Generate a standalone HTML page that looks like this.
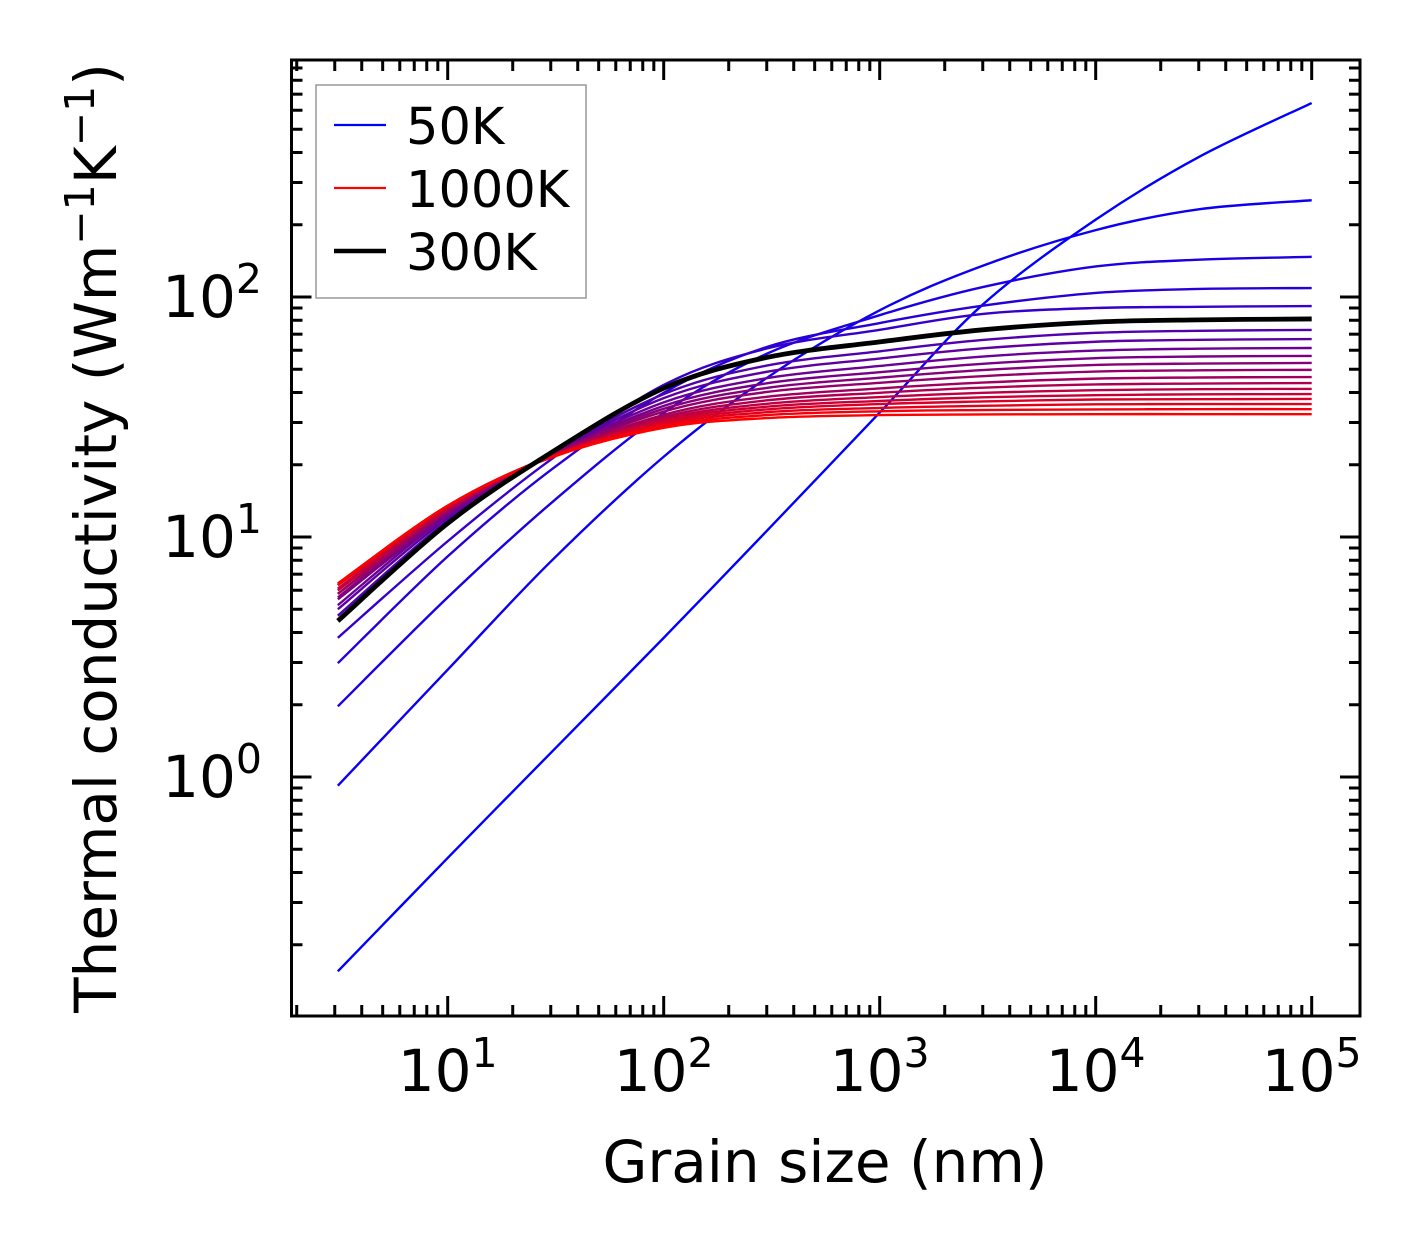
<!DOCTYPE html>
<html><head><meta charset="utf-8"><style>
html,body{margin:0;padding:0;background:#fff}
svg{display:block;font-family:"DejaVu Sans","Liberation Sans",sans-serif}
</style></head><body>
<svg id="chart" width="1421" height="1254" viewBox="0 0 1421 1254" xmlns="http://www.w3.org/2000/svg">
<rect width="1421" height="1254" fill="#fff"/>
<g id="curves"></g>
<g id="ticks"></g>
<rect x="291.5" y="60" width="1068.5" height="956" fill="none" stroke="#000" stroke-width="3"/>
<g id="ticklabels" font-size="58" fill="#000"></g>
<text x="825" y="1182" font-size="58" text-anchor="middle">Grain size (nm)</text>
<text transform="translate(116,538) rotate(-90)" font-size="58" text-anchor="middle">Thermal conductivity (Wm<tspan dy="-22" font-size="41">−1</tspan><tspan dy="22">K</tspan><tspan dy="-22" font-size="41">−1</tspan><tspan dy="22">)</tspan></text>
<g>
<rect x="316" y="85" width="270" height="213" fill="#fff" stroke="#999" stroke-width="1.5"/>
<line x1="334" y1="125" x2="386" y2="125" stroke="#0000ff" stroke-width="2.2"/>
<text x="406" y="144" font-size="51">50K</text>
<line x1="334" y1="188" x2="386" y2="188" stroke="#ff0000" stroke-width="2.2"/>
<text x="406" y="207" font-size="51">1000K</text>
<line x1="334" y1="251" x2="386" y2="251" stroke="#000" stroke-width="4.5"/>
<text x="406" y="270" font-size="51">300K</text>
</g>
</svg>
<script>
const grainSizes = [3.1, 10, 30, 100, 300, 1000, 3000, 10000, 30000, 100000];
const temperatures = [50,100,150,200,250,350,400,450,500,550,600,650,700,750,800,850,900,950,1000];
const k50 = [0.155,0.46,1.26,3.8,10.6,33,93,210,383,643];
const k100 = [0.92,2.8,7.9,21.6,46,88,135,190,232,253];
const k150 = [1.97,5.6,13.8,32.9,58,84,110,134,143,147];
const k200 = [2.98,8.3,19.0,39.9,61.9,77.9,92,104,108,109];
const k250 = [3.8,9.6,21,43,61,73,85,90,91,91.7];
const k350 = [4.7,11.7,22.2,39.4,51.8,59.4,66.2,70.9,72.3,72.9];
const k400 = [5.0,12.0,22.1,37.9,48.8,55.4,61.1,65.1,66.3,66.8];
const k450 = [5.2,12.3,22.0,36.4,45.9,51.6,56.5,59.8,60.9,61.3];
const k500 = [5.5,12.4,21.9,35.2,43.7,48.6,52.7,55.6,56.5,56.8];
const k550 = [5.6,12.7,21.9,34.2,41.8,46.1,49.6,52.1,52.8,53.1];
const k600 = [5.8,12.8,21.9,33.3,40.2,43.9,46.8,48.9,49.5,49.7];
const k650 = [5.8,12.9,21.7,32.3,38.4,41.6,44.0,45.7,46.2,46.4];
const k700 = [6.0,13.0,21.7,31.6,37.1,39.9,41.9,43.2,43.6,43.8];
const k750 = [6.0,13.1,21.6,31.0,35.9,38.3,39.9,40.9,41.3,41.4];
const k800 = [6.1,13.3,21.6,30.5,34.9,36.9,38.2,39.0,39.3,39.4];
const k850 = [6.3,13.4,21.7,30.0,34.0,35.8,36.7,37.4,37.5,37.6];
const k900 = [6.3,13.5,21.6,29.5,33.1,34.5,35.2,35.7,35.8,35.8];
const k950 = [6.4,13.5,21.5,29.0,32.2,33.4,33.8,34.0,34.1,34.1];
const k1000 = [6.4,13.5,21.4,28.5,31.3,32.2,32.4,32.5,32.5,32.5];
const k300 = [4.47,11.4,22.4,41.7,56,65,73,78.6,80.3,81];
const series = [k50,k100,k150,k200,k250,k350,k400,k450,k500,k550,k600,k650,k700,k750,k800,k850,k900,k950,k1000];
const xTickExps = [1,2,3,4,5];
const yTickExps = [0,1,2];

const NS = "http://www.w3.org/2000/svg";
const L = 291.5, R = 1360, T = 60, B = 1016;
const xDec = 216, yDec = 240;
function X(v){ return 447.7 + (Math.log10(v) - 1) * xDec; }
function Y(v){ return 777 - Math.log10(v) * yDec; }
const xMin = Math.pow(10, 1 - (447.7 - L)/xDec), xMax = Math.pow(10, 1 + (R - 447.7)/xDec);
const yMin = Math.pow(10, -(B - 777)/yDec), yMax = Math.pow(10, (777 - T)/yDec);

function smoothPath(xs, ys){
  const pts = xs.map((x,i)=>[X(x), Y(ys[i])]);
  let d = "M" + pts[0][0].toFixed(2) + "," + pts[0][1].toFixed(2);
  for (let i = 0; i < pts.length - 1; i++){
    const p0 = pts[Math.max(0,i-1)], p1 = pts[i], p2 = pts[i+1], p3 = pts[Math.min(pts.length-1,i+2)];
    const c1 = [p1[0] + (p2[0]-p0[0])/6, p1[1] + (p2[1]-p0[1])/6];
    const c2 = [p2[0] - (p3[0]-p1[0])/6, p2[1] - (p3[1]-p1[1])/6];
    d += " C" + c1[0].toFixed(2)+","+c1[1].toFixed(2)+" "+c2[0].toFixed(2)+","+c2[1].toFixed(2)+" "+p2[0].toFixed(2)+","+p2[1].toFixed(2);
  }
  return d;
}

const gc = document.getElementById("curves");
series.forEach((vals, i) => {
  const t = (temperatures[i] - 50) / 950;
  const r = Math.round(255 * t), b = Math.round(255 * (1 - t));
  const p = document.createElementNS(NS, "path");
  p.setAttribute("d", smoothPath(grainSizes, vals));
  p.setAttribute("fill", "none");
  p.setAttribute("stroke", "rgb(" + r + ",0," + b + ")");
  p.setAttribute("stroke-width", "2.4");
  
  
  gc.appendChild(p);
});
const pb = document.createElementNS(NS, "path");
pb.setAttribute("d", smoothPath(grainSizes, k300));
pb.setAttribute("fill", "none");
pb.setAttribute("stroke", "#000");
pb.setAttribute("stroke-width", "4.8");


gc.appendChild(pb);

const gt = document.getElementById("ticks");
function tick(x1,y1,x2,y2,name){
  const l = document.createElementNS(NS, "line");
  l.setAttribute("x1",x1); l.setAttribute("y1",y1); l.setAttribute("x2",x2); l.setAttribute("y2",y2);
  l.setAttribute("stroke","#000"); l.setAttribute("stroke-width","3");
  
  
  gt.appendChild(l);
}
for (let e = 0; e <= 5; e++){
  for (let m = 1; m <= 9; m++){
    const v = m * Math.pow(10, e);
    if (v < xMin || v > xMax) continue;
    const x = X(v), len = m === 1 ? 20 : 11;
    tick(x, B, x, B - len, m === 1 ? 'x-major-tick' : 'x-minor-tick');
    tick(x, T, x, T + len, m === 1 ? 'x-major-tick-top' : 'x-minor-tick-top');
  }
}
for (let e = -1; e <= 2; e++){
  for (let m = 1; m <= 9; m++){
    const v = m * Math.pow(10, e);
    if (v < yMin || v > yMax) continue;
    const y = Y(v), len = m === 1 ? 20 : 11;
    tick(L, y, L + len, y, m === 1 ? 'y-major-tick' : 'y-minor-tick');
    tick(R, y, R - len, y, m === 1 ? 'y-major-tick-right' : 'y-minor-tick-right');
  }
}

const gl = document.getElementById("ticklabels");
xTickExps.forEach(e => {
  const t = document.createElementNS(NS, "text");
  t.setAttribute("x", X(Math.pow(10,e)));
  t.setAttribute("y", 1091);
  t.setAttribute("text-anchor", "middle");
  t.innerHTML = '10<tspan dy="-24" font-size="41">' + e + '</tspan>';
  
  
  gl.appendChild(t);
});
yTickExps.forEach(e => {
  const t = document.createElementNS(NS, "text");
  t.setAttribute("x", 262);
  t.setAttribute("y", Y(Math.pow(10,e)) + 20);
  t.setAttribute("text-anchor", "end");
  t.innerHTML = '10<tspan dy="-24" font-size="41">' + e + '</tspan>';
  
  
  gl.appendChild(t);
});
</script>
</body></html>
